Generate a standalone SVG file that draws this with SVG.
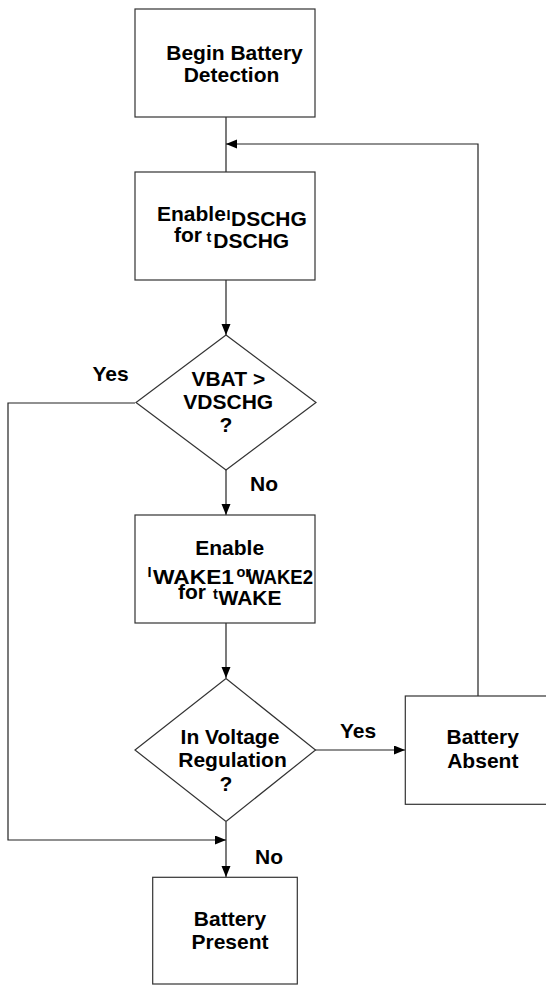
<svg xmlns="http://www.w3.org/2000/svg" width="546" height="986" viewBox="0 0 546 986">
<style>
.box{fill:#fff;stroke:#333;stroke-width:1.2}
.con{fill:none;stroke:#222;stroke-width:1.2}
text{font-family:"Liberation Sans",Arial,sans-serif;font-weight:bold;fill:#000;font-size:21px}
.c{text-anchor:middle}
.s{font-size:14.5px}
</style>
<defs>
<marker id="arr" markerUnits="userSpaceOnUse" markerWidth="12" markerHeight="10" refX="11" refY="4.5" orient="auto">
<path d="M0,0 L11,4.5 L0,9 z" fill="#000"/>
</marker>
</defs>
<rect width="546" height="986" fill="#fff"/>
<g id="connectors">
<path class="con" d="M226,117 V172"/>
<path class="con" d="M478,696 V144 H226" marker-end="url(#arr)"/>
<path class="con" d="M226,280 V335" marker-end="url(#arr)"/>
<path class="con" d="M226,469 V515" marker-end="url(#arr)"/>
<path class="con" d="M135,403 H8 V840 H226" marker-end="url(#arr)"/>
<path class="con" d="M226,623 V678" marker-end="url(#arr)"/>
<path class="con" d="M315,750 H405" marker-end="url(#arr)"/>
<path class="con" d="M226,822 V877" marker-end="url(#arr)"/>
</g>
<g id="labels">
<text x="92.5" y="381">Yes</text>
<text x="250" y="491">No</text>
<text x="340" y="738">Yes</text>
<text x="255" y="863.5">No</text>
</g>
<g id="begin">
<rect class="box" x="135" y="9" width="180" height="108"/>
<text class="c" x="234.5" y="59.5">Begin Battery</text>
<text class="c" x="231.5" y="82">Detection</text>
</g>
<g id="enable-dschg">
<rect class="box" x="135" y="172" width="180" height="108"/>
<text x="157" y="221">Enable</text>
<text class="s" x="226.5" y="220">I</text>
<text x="231" y="226">DSCHG</text>
<text x="174" y="241.7">for</text>
<text class="s" x="206.5" y="241.7">t</text>
<text x="213.3" y="248.3">DSCHG</text>
</g>
<g id="vbat-check">
<polygon class="box" points="226,335 316,402.5 226,470 136,402.5"/>
<text class="c" x="228.3" y="386">VBAT &gt;</text>
<text class="c" x="228.3" y="408.5">VDSCHG</text>
<text class="c" x="225.8" y="432">?</text>
</g>
<g id="enable-wake">
<rect class="box" x="135" y="515" width="180" height="108"/>
<text class="c" x="229.7" y="555">Enable</text>
<text class="s" x="147.5" y="577">I</text>
<text x="153" y="583.5" textLength="81" lengthAdjust="spacingAndGlyphs">WAKE1</text>
<text class="s" x="236.5" y="577">or</text>
<text x="247" y="583.5" textLength="66" lengthAdjust="spacingAndGlyphs">WAKE2</text>
<text x="178" y="598.5">for</text>
<text class="s" x="213" y="598.5">t</text>
<text x="218.5" y="605">WAKE</text>
</g>
<g id="regulation-check">
<polygon class="box" points="226,678.5 315.5,750 226,821.5 135,750"/>
<text class="c" x="230" y="744">In Voltage</text>
<text class="c" x="232.5" y="767">Regulation</text>
<text class="c" x="225.8" y="791">?</text>
</g>
<g id="battery-absent">
<rect class="box" x="405.3" y="696" width="170" height="108.3"/>
<text class="c" x="482.7" y="744">Battery</text>
<text class="c" x="482.8" y="767.7">Absent</text>
</g>
<g id="battery-present">
<rect class="box" x="152.7" y="877.3" width="144.6" height="106.7"/>
<text class="c" x="230" y="926">Battery</text>
<text class="c" x="230" y="949.3">Present</text>
</g>
</svg>
